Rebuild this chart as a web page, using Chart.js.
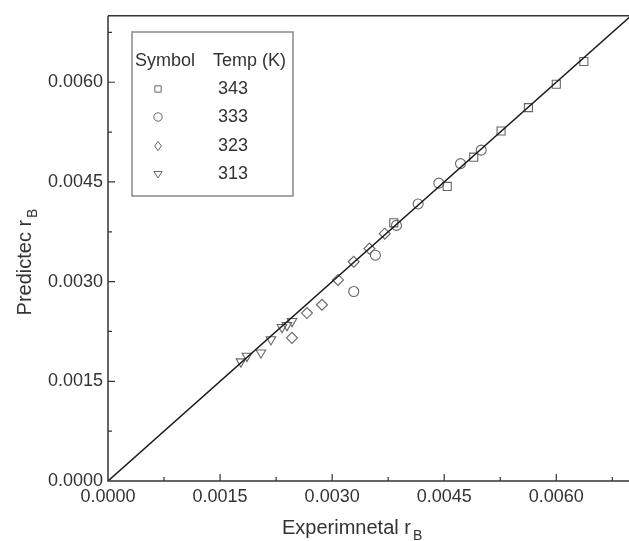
<!DOCTYPE html>
<html><head><meta charset="utf-8">
<script src="https://cdn.jsdelivr.net/npm/chart.js@4/dist/chart.umd.min.js"></script>
<style>html,body{margin:0;padding:0;background:#fff;overflow:hidden}#wrap{width:640px;height:541px;position:relative}</style>
</head><body><div id="wrap"><canvas id="c" width="640" height="541"></canvas></div>
<script>
// ---- data ----
const xTicks = [0, 0.0015, 0.0030, 0.0045, 0.0060];
const yTicks = [0, 0.0015, 0.0030, 0.0045, 0.0060];
const minorStep = 0.00075;
const axisMax = 0.007;

const legendTemps = ['343', '333', '323', '313'];

const x343 = [0.003825, 0.004540, 0.004895, 0.005261, 0.005627, 0.006000, 0.006369];
const y343 = [0.003885, 0.004433, 0.004873, 0.005266, 0.005618, 0.005970, 0.006313];
const x333 = [0.003289, 0.003579, 0.003861, 0.004151, 0.004428, 0.004718, 0.004995];
const y333 = [0.002851, 0.003398, 0.003846, 0.004169, 0.004482, 0.004776, 0.004979];
const x323 = [0.002462, 0.002663, 0.002864, 0.003079, 0.003289, 0.003499, 0.003704];
const y323 = [0.002154, 0.002527, 0.002652, 0.003025, 0.003299, 0.003497, 0.003721];
const x313 = [0.001779, 0.001859, 0.002047, 0.002181, 0.002328, 0.002395, 0.002462];
const y313 = [0.001796, 0.001880, 0.001930, 0.002130, 0.002313, 0.002343, 0.002403];
const fitX = [0, 0.007];
const fitY = [0, 0.007];

// ---- styling ----
const FONT = '"Liberation Sans", Arial, Helvetica, sans-serif';
const INK = '#666';
const TXT = '#333';
function pts(xs, ys) { return xs.map((x, i) => ({x: x, y: ys[i]})); }

function symbol(ctx, kind, cx, cy, r) {
  ctx.beginPath();
  if (kind === 'rect') { const s = r * 0.75; ctx.rect(cx - s, cy - s, 2 * s, 2 * s); }
  else if (kind === 'circle') { ctx.arc(cx, cy, r, 0, Math.PI * 2); }
  else if (kind === 'diamond') { ctx.moveTo(cx, cy - r * 1.1); ctx.lineTo(cx + r * 0.8, cy); ctx.lineTo(cx, cy + r * 1.1); ctx.lineTo(cx - r * 0.8, cy); ctx.closePath(); }
  else { ctx.moveTo(cx - r, cy - r * 0.6); ctx.lineTo(cx + r, cy - r * 0.6); ctx.lineTo(cx, cy + r * 0.95); ctx.closePath(); }
  ctx.stroke();
}

const decor = {
  id: 'decor',
  afterDraw(chart) {
    const ctx = chart.ctx, a = chart.chartArea, xs = chart.scales.x, ys = chart.scales.y;
    ctx.save();
    ctx.strokeStyle = '#333'; ctx.lineWidth = 1.5;
    ctx.beginPath();
    ctx.moveTo(a.left, a.top); ctx.lineTo(a.right, a.top);
    ctx.moveTo(a.left, a.top); ctx.lineTo(a.left, a.bottom); ctx.lineTo(a.right, a.bottom);
    ctx.stroke();
    ctx.lineWidth = 1.2;
    ctx.beginPath();
    for (let i = 1; i * minorStep <= axisMax + 1e-9; i++) {
      const v = i * minorStep, len = (i % 2 === 0) ? 7 : 4;
      const px = xs.getPixelForValue(v);
      ctx.moveTo(px, a.bottom); ctx.lineTo(px, a.bottom - len);
      const py = ys.getPixelForValue(v);
      ctx.moveTo(a.left, py); ctx.lineTo(a.left + len, py);
    }
    ctx.stroke();

    // legend box
    ctx.strokeStyle = '#888'; ctx.lineWidth = 1.5;
    ctx.strokeRect(132, 32, 161, 164);
    ctx.fillStyle = TXT; ctx.font = '18px ' + FONT; ctx.textBaseline = 'middle'; ctx.textAlign = 'left';
    ctx.fillText('Symbol', 135, 61);
    ctx.fillText('Temp (K)', 213, 61);
    const kinds = ['rect', 'circle', 'diamond', 'tri'];
    const rows = [89, 117, 146, 174];
    ctx.strokeStyle = INK; ctx.lineWidth = 1;
    legendTemps.forEach((t, i) => {
      symbol(ctx, kinds[i], 158, rows[i], 4.2);
      ctx.fillText(t, 218, rows[i]);
    });

    // axis titles
    ctx.textBaseline = 'alphabetic';
    ctx.font = '20px ' + FONT;
    const xt = 'Experimnetal r';
    ctx.fillText(xt, 282, 534);
    const xw = ctx.measureText(xt).width;
    ctx.font = '14px ' + FONT;
    ctx.fillText('B', 282 + xw + 2, 540);

    ctx.save();
    ctx.translate(31, 262);
    ctx.rotate(-Math.PI / 2);
    ctx.font = '20px ' + FONT;
    const yt = 'Predictec r';
    const yw = ctx.measureText(yt).width;
    ctx.font = '14px ' + FONT;
    const bw = ctx.measureText('B').width;
    const start = -(yw + 2 + bw) / 2;
    ctx.font = '20px ' + FONT;
    ctx.fillText(yt, start, 0);
    ctx.font = '14px ' + FONT;
    ctx.fillText('B', start + yw + 2, 6);
    ctx.restore();
    ctx.restore();
  }
};

const markerBase = {type: 'scatter', showLine: false, borderColor: INK, backgroundColor: 'rgba(0,0,0,0)', pointBorderWidth: 1.1, borderWidth: 1.1};

new Chart(document.getElementById('c'), {
  type: 'scatter',
  data: {
    datasets: [
      {type: 'line', data: pts(fitX, fitY), borderColor: '#1a1a1a', borderWidth: 1.5, pointRadius: 0, fill: false, tension: 0},
      Object.assign({}, markerBase, {label: '343', data: pts(x343, y343), pointStyle: 'rect', pointRadius: 5.7}),
      Object.assign({}, markerBase, {label: '333', data: pts(x333, y333), pointStyle: 'circle', pointRadius: 5}),
      Object.assign({}, markerBase, {label: '323', data: pts(x323, y323), pointStyle: 'rectRot', pointRadius: 5.5}),
      Object.assign({}, markerBase, {label: '313', data: pts(x313, y313), pointStyle: 'triangle', pointRadius: 5.5, rotation: 180, pointRotation: 180})
    ]
  },
  options: {
    responsive: false,
    animation: false,
    layout: {padding: {top: 13, right: 9, left: 0, bottom: 0}},
    plugins: {legend: {display: false}, tooltip: {enabled: false}},
    scales: {
      x: {
        type: 'linear', min: 0, max: axisMax,
        grid: {display: false, drawTicks: false}, border: {display: false},
        afterBuildTicks: s => { s.ticks = xTicks.map(v => ({value: v})); },
        afterFit: s => { s.height = 60; },
        ticks: {padding: 5, color: TXT, font: {family: FONT, size: 18}, maxRotation: 0, callback: v => Number(v).toFixed(4)}
      },
      y: {
        type: 'linear', min: 0, max: axisMax,
        grid: {display: false, drawTicks: false}, border: {display: false},
        afterBuildTicks: s => { s.ticks = yTicks.map(v => ({value: v})); },
        afterFit: s => { s.width = 108; },
        ticks: {padding: 5, color: TXT, font: {family: FONT, size: 18}, callback: v => Number(v).toFixed(4)}
      }
    }
  },
  plugins: [decor]
});
</script>
</body></html>
